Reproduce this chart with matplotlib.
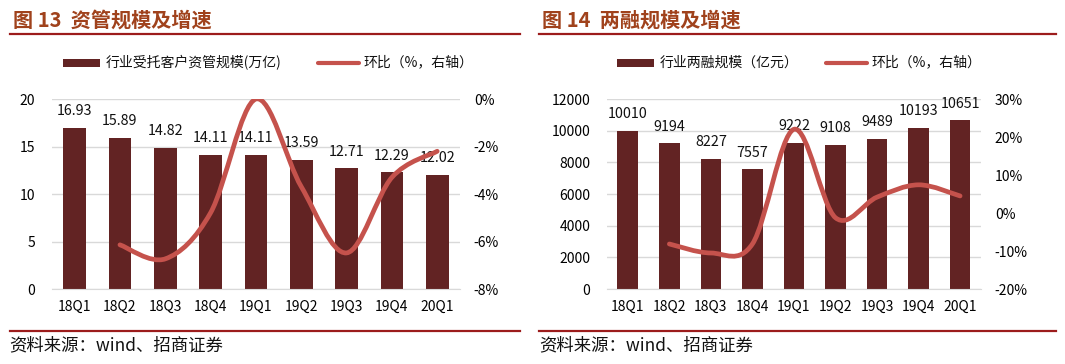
import numpy as np
import matplotlib
matplotlib.use('Agg')
import matplotlib.pyplot as plt
from matplotlib.path import Path
from matplotlib.patches import PathPatch, Rectangle
from matplotlib.lines import Line2D

plt.rcParams['font.family'] = ['Noto Sans CJK SC', 'DejaVu Sans']
plt.rcParams['axes.unicode_minus'] = False

quarters = ['18Q1', '18Q2', '18Q3', '18Q4', '19Q1', '19Q2', '19Q3', '19Q4', '20Q1']

# 资管规模 (万亿) and 环比 (%)
am_scale = [16.93, 15.89, 14.82, 14.11, 14.11, 13.59, 12.71, 12.29, 12.02]
am_qoq = [np.nan, -6.14, -6.73, -4.79, 0.0, -3.69, -6.48, -3.30, -2.20]

# 两融规模 (亿元) and 环比 (%)
mt_scale = [10010, 9194, 8227, 7557, 9222, 9108, 9489, 10193, 10651]
mt_qoq = [np.nan, -8.15, -10.52, -8.14, 22.03, -1.24, 4.18, 7.42, 4.49]

BAR = '#622323'
LINE = '#C5524C'
GRID = '#D9D9D9'
TITLE = '#A0421C'
RULE = '#9C1C1C'


def smooth_path(x, y):
    # Excel-style smoothed line: Catmull-Rom segments drawn as cubic Beziers
    pts = [(a, b) for a, b in zip(x, y) if not np.isnan(b)]
    p = np.array(pts, dtype=float)
    n = len(p)
    verts = [tuple(p[0])]
    codes = [Path.MOVETO]
    for i in range(n - 1):
        p0 = p[i - 1] if i > 0 else p[i]
        p3 = p[i + 2] if i + 2 < n else p[i + 1]
        c1 = p[i] + (p[i + 1] - p0) / 6
        c2 = p[i + 1] - (p3 - p[i]) / 6
        verts += [tuple(c1), tuple(c2), tuple(p[i + 1])]
        codes += [Path.CURVE4] * 3
    return Path(verts, codes)


def panel(rect, values, qoq, ylim, yticks, y2lim, y2ticks, fmt, leg_bar, leg_x):
    ax = fig.add_axes(rect)
    x = np.arange(len(quarters))
    ax.bar(x, values, width=0.5, color=BAR, zorder=2)
    for xi, v in zip(x, values):
        ax.annotate(fmt(v), (xi, v), xytext=(0, 7), textcoords='offset points',
                    ha='center', va='bottom', fontsize=10.3, color='#111111', zorder=5)
    ax.set_xlim(-0.5, len(quarters) - 0.5)
    ax.set_ylim(*ylim)
    ax.set_yticks(yticks)
    ax.set_xticks(x)
    ax.set_xticklabels(quarters, fontsize=10)
    ax.grid(axis='y', color=GRID, linewidth=1, zorder=0)
    for s in ['top', 'right', 'left']:
        ax.spines[s].set_visible(False)
    ax.spines['bottom'].set_color(GRID)
    ax.tick_params(length=0, labelsize=10, pad=8)
    ax.tick_params(axis='y', pad=12)

    ax2 = ax.twinx()
    ax2.set_ylim(*y2lim)
    ax2.set_yticks(y2ticks)
    ax2.set_yticklabels([f'{t}%' for t in y2ticks])
    ax2.tick_params(length=0, labelsize=10, pad=10)
    for s in ax2.spines.values():
        s.set_visible(False)
    ax2.add_patch(PathPatch(smooth_path(x, qoq), facecolor='none', edgecolor=LINE,
                            linewidth=3.4, capstyle='round', zorder=3))

    # legend
    ly = 0.828
    fig.patches.append(Rectangle((leg_x[0], ly - 0.011), 0.035, 0.022, transform=fig.transFigure,
                                 facecolor=BAR, edgecolor='none'))
    fig.text(leg_x[0] + 0.04, ly, leg_bar, fontsize=10, va='center', color='#111111')
    fig.lines.append(Line2D([leg_x[1], leg_x[1] + 0.038], [ly, ly], transform=fig.transFigure,
                            color=LINE, linewidth=3, solid_capstyle='round'))
    fig.text(leg_x[1] + 0.042, ly, '环比（%，右轴）', fontsize=10, va='center', color='#111111')
    return ax


fig = plt.figure(figsize=(10.65, 3.64), dpi=100)

panel([0.0488, 0.206, 0.383, 0.522], am_scale, am_qoq, (0, 20), [0, 5, 10, 15, 20],
      (-8, 0), [-8, -6, -4, -2, 0], lambda v: f'{v:.2f}', '行业受托客户资管规模(万亿)', (0.059, 0.299))
panel([0.570, 0.206, 0.351, 0.522], mt_scale, mt_qoq, (0, 12000), list(range(0, 12001, 2000)),
      (-20, 30), [-20, -10, 0, 10, 20, 30], lambda v: f'{v:d}', '行业两融规模（亿元）', (0.579, 0.776))

# titles and rules
for x0, x1, title in [(0.009, 0.488, '图 13  资管规模及增速'), (0.506, 0.992, '图 14  两融规模及增速')]:
    fig.text(x0 + 0.003, 1 - 20 / 364, title, fontsize=14.5, fontweight='bold', color=TITLE, va='center')
    fig.lines.append(Line2D([x0, x1], [1 - 34 / 364] * 2, transform=fig.transFigure, color=RULE, linewidth=1.6))
    fig.lines.append(Line2D([x0, x1], [1 - 331 / 364] * 2, transform=fig.transFigure, color=RULE, linewidth=1.6))
    fig.text(x0, 1 - 345 / 364, '资料来源：wind、招商证券', fontsize=12.5, color='#111111', va='center')

fig.savefig('out.png', dpi=100)
